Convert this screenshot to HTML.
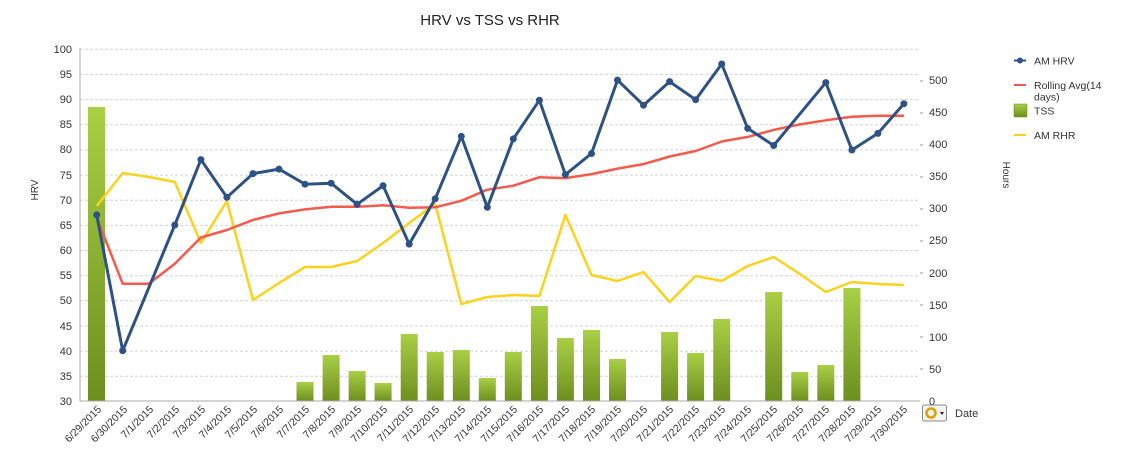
<!DOCTYPE html>
<html><head><meta charset="utf-8"><style>
body{margin:0;background:#fff;}
svg{display:block;font-family:"Liberation Sans",sans-serif;}
</style></head><body>
<svg width="1127" height="449" viewBox="0 0 1127 449" xmlns="http://www.w3.org/2000/svg">
<defs>
<linearGradient id="g" x1="0" y1="0" x2="0" y2="1">
<stop offset="0" stop-color="#a9cf45"/><stop offset="1" stop-color="#6c8f1f"/>
</linearGradient>
</defs>
<text x="490" y="25" font-size="15" text-anchor="middle" fill="#222">HRV vs TSS vs RHR</text>
<g stroke="#d4d4d4" stroke-dasharray="3,2" stroke-width="1">
<line x1="80" x2="920" y1="49.3" y2="49.3"/><line x1="80" x2="920" y1="74.4" y2="74.4"/>
<line x1="80" x2="920" y1="99.6" y2="99.6"/><line x1="80" x2="920" y1="124.7" y2="124.7"/>
<line x1="80" x2="920" y1="149.9" y2="149.9"/><line x1="80" x2="920" y1="175.1" y2="175.1"/>
<line x1="80" x2="920" y1="200.2" y2="200.2"/><line x1="80" x2="920" y1="225.4" y2="225.4"/>
<line x1="80" x2="920" y1="250.5" y2="250.5"/><line x1="80" x2="920" y1="275.7" y2="275.7"/>
<line x1="80" x2="920" y1="300.8" y2="300.8"/><line x1="80" x2="920" y1="326" y2="326"/>
<line x1="80" x2="920" y1="351.1" y2="351.1"/><line x1="80" x2="920" y1="376.3" y2="376.3"/>
</g>
<g font-size="11" fill="#333" text-anchor="end">
<text x="72" y="53">100</text><text x="72" y="78">95</text><text x="72" y="103">90</text>
<text x="72" y="128">85</text><text x="72" y="153">80</text><text x="72" y="179">75</text>
<text x="72" y="204">70</text><text x="72" y="229">65</text><text x="72" y="254">60</text>
<text x="72" y="279">55</text><text x="72" y="304">50</text><text x="72" y="330">45</text>
<text x="72" y="355">40</text><text x="72" y="380">35</text><text x="72" y="405">30</text>
</g>
<text transform="translate(38,190) rotate(-90)" font-size="10" fill="#333" text-anchor="middle">HRV</text>
<g font-size="11" fill="#333">
<text x="929" y="405">0</text><text x="929" y="373">50</text><text x="929" y="341">100</text>
<text x="929" y="309">150</text><text x="929" y="277">200</text><text x="929" y="244">250</text>
<text x="929" y="212">300</text><text x="929" y="180">350</text><text x="929" y="148">400</text>
<text x="929" y="116">450</text><text x="929" y="84">500</text>
</g>
<g stroke="#999" stroke-width="1">
<line x1="920" x2="923" y1="369" y2="369"/><line x1="920" x2="923" y1="337" y2="337"/>
<line x1="920" x2="923" y1="305" y2="305"/><line x1="920" x2="923" y1="273" y2="273"/>
<line x1="920" x2="923" y1="241" y2="241"/><line x1="920" x2="923" y1="209" y2="209"/>
<line x1="920" x2="923" y1="177" y2="177"/><line x1="920" x2="923" y1="145" y2="145"/>
<line x1="920" x2="923" y1="113" y2="113"/><line x1="920" x2="923" y1="81" y2="81"/>
</g>
<text transform="translate(1003,175) rotate(90)" font-size="10" fill="#333" text-anchor="middle">Hours</text>
<g fill="url(#g)">
<rect x="88" y="107" width="17" height="294"/>
<rect x="296.5" y="382" width="17" height="19"/>
<rect x="322.6" y="355" width="17" height="46"/>
<rect x="348.6" y="371" width="17" height="30"/>
<rect x="374.6" y="383" width="17" height="18"/>
<rect x="400.7" y="334" width="17" height="67"/>
<rect x="426.7" y="352" width="17" height="49"/>
<rect x="452.8" y="350" width="17" height="51"/>
<rect x="478.8" y="378" width="17" height="23"/>
<rect x="504.8" y="352" width="17" height="49"/>
<rect x="530.9" y="306" width="17" height="95"/>
<rect x="556.9" y="338" width="17" height="63"/>
<rect x="583" y="330" width="17" height="71"/>
<rect x="609" y="359" width="17" height="42"/>
<rect x="661.1" y="332" width="17" height="69"/>
<rect x="687.1" y="353" width="17" height="48"/>
<rect x="713.2" y="319" width="17" height="82"/>
<rect x="765.2" y="292" width="17" height="109"/>
<rect x="791.3" y="372" width="17" height="29"/>
<rect x="817.3" y="365" width="17" height="36"/>
<rect x="843.4" y="288" width="17" height="113"/>
</g>
<line x1="80" y1="48" x2="80" y2="401" stroke="#aaa"/>
<line x1="80" y1="401" x2="920" y2="401" stroke="#aaa"/>
<polyline fill="none" stroke="#fcd21c" stroke-width="2.5" stroke-linejoin="round" points="96.7,206 122.7,173 148.8,177 174.8,182 200.9,243 226.9,201 253,300 279,283 305,267 331.1,267 357.1,261 383.1,243 409.2,223 435.2,204 461.3,304 487.3,297 513.3,295 539.4,296 565.4,215 591.5,275 617.5,281 643.5,272 669.6,302 695.6,276 721.7,281 747.7,266 773.7,257 799.8,274 825.8,292 851.9,282 877.9,284 903.9,285"/>
<polyline fill="none" stroke="#f55a4e" stroke-width="2.5" stroke-linejoin="round" points="96.7,217.4 122.7,283.8 148.8,283.8 174.8,263.7 200.9,237.5 226.9,230 253,219.9 279,213.4 305,209.4 331.1,206.8 357.1,206.8 383.1,205.3 409.2,207.8 435.2,207.3 461.3,200.8 487.3,189.7 513.3,185.7 539.4,177.2 565.4,178.2 591.5,174.1 617.5,168.6 643.5,164.1 669.6,156.5 695.6,151 721.7,141.5 747.7,136.9 773.7,129.9 799.8,124.4 825.8,120.3 851.9,116.8 877.9,115.8 903.9,115.8"/>
<g fill="#2e5286" stroke="#2e5286">
<polyline fill="none" stroke-width="3" stroke-linejoin="round" points="96.7,214.9 122.7,350.7 174.8,225 200.9,159.6 226.9,197.3 253,173.6 279,169.1 305,184.2 331.1,183.2 357.1,204.3 383.1,185.7 409.2,244.1 435.2,198.8 461.3,136.4 487.3,207.3 513.3,138.9 539.4,100.2 565.4,174.6 591.5,153.5 617.5,80.1 643.5,105.2 669.6,81.6 695.6,99.7 721.7,64 747.7,128.4 773.7,145.5 825.8,82.6 851.9,150 877.9,133.4 903.9,103.7"/>
<g stroke="none">
<circle cx="96.7" cy="214.9" r="3.5"/><circle cx="122.7" cy="350.7" r="3.5"/><circle cx="174.8" cy="225" r="3.5"/><circle cx="200.9" cy="159.6" r="3.5"/><circle cx="226.9" cy="197.3" r="3.5"/><circle cx="253" cy="173.6" r="3.5"/><circle cx="279" cy="169.1" r="3.5"/><circle cx="305" cy="184.2" r="3.5"/><circle cx="331.1" cy="183.2" r="3.5"/><circle cx="357.1" cy="204.3" r="3.5"/><circle cx="383.1" cy="185.7" r="3.5"/><circle cx="409.2" cy="244.1" r="3.5"/><circle cx="435.2" cy="198.8" r="3.5"/><circle cx="461.3" cy="136.4" r="3.5"/><circle cx="487.3" cy="207.3" r="3.5"/><circle cx="513.3" cy="138.9" r="3.5"/><circle cx="539.4" cy="100.2" r="3.5"/><circle cx="565.4" cy="174.6" r="3.5"/><circle cx="591.5" cy="153.5" r="3.5"/><circle cx="617.5" cy="80.1" r="3.5"/><circle cx="643.5" cy="105.2" r="3.5"/><circle cx="669.6" cy="81.6" r="3.5"/><circle cx="695.6" cy="99.7" r="3.5"/><circle cx="721.7" cy="64" r="3.5"/><circle cx="747.7" cy="128.4" r="3.5"/><circle cx="773.7" cy="145.5" r="3.5"/><circle cx="825.8" cy="82.6" r="3.5"/><circle cx="851.9" cy="150" r="3.5"/><circle cx="877.9" cy="133.4" r="3.5"/><circle cx="903.9" cy="103.7" r="3.5"/>
</g></g>
<g font-size="10.5" fill="#333" text-anchor="end">
<text transform="translate(102,410) rotate(-45)">6/29/2015</text>
<text transform="translate(128,410) rotate(-45)">6/30/2015</text>
<text transform="translate(154,410) rotate(-45)">7/1/2015</text>
<text transform="translate(180,410) rotate(-45)">7/2/2015</text>
<text transform="translate(206,410) rotate(-45)">7/3/2015</text>
<text transform="translate(232,410) rotate(-45)">7/4/2015</text>
<text transform="translate(258,410) rotate(-45)">7/5/2015</text>
<text transform="translate(284,410) rotate(-45)">7/6/2015</text>
<text transform="translate(310,410) rotate(-45)">7/7/2015</text>
<text transform="translate(336,410) rotate(-45)">7/8/2015</text>
<text transform="translate(362,410) rotate(-45)">7/9/2015</text>
<text transform="translate(388,410) rotate(-45)">7/10/2015</text>
<text transform="translate(414,410) rotate(-45)">7/11/2015</text>
<text transform="translate(440,410) rotate(-45)">7/12/2015</text>
<text transform="translate(466,410) rotate(-45)">7/13/2015</text>
<text transform="translate(492,410) rotate(-45)">7/14/2015</text>
<text transform="translate(518,410) rotate(-45)">7/15/2015</text>
<text transform="translate(544,410) rotate(-45)">7/16/2015</text>
<text transform="translate(570,410) rotate(-45)">7/17/2015</text>
<text transform="translate(596,410) rotate(-45)">7/18/2015</text>
<text transform="translate(622,410) rotate(-45)">7/19/2015</text>
<text transform="translate(648,410) rotate(-45)">7/20/2015</text>
<text transform="translate(674,410) rotate(-45)">7/21/2015</text>
<text transform="translate(700,410) rotate(-45)">7/22/2015</text>
<text transform="translate(726,410) rotate(-45)">7/23/2015</text>
<text transform="translate(752,410) rotate(-45)">7/24/2015</text>
<text transform="translate(778,410) rotate(-45)">7/25/2015</text>
<text transform="translate(804,410) rotate(-45)">7/26/2015</text>
<text transform="translate(830,410) rotate(-45)">7/27/2015</text>
<text transform="translate(856,410) rotate(-45)">7/28/2015</text>
<text transform="translate(882,410) rotate(-45)">7/29/2015</text>
<text transform="translate(908,410) rotate(-45)">7/30/2015</text>
</g>
<rect x="922.5" y="405" width="24" height="16" rx="2" fill="#f4f4f4" stroke="#888"/>
<circle cx="931" cy="413" r="4.5" fill="none" stroke="#e0a000" stroke-width="2.5"/>
<path d="M940 412 l4 0 l-2 3z" fill="#222"/>
<text x="955" y="417" font-size="11" fill="#333">Date</text>
<line x1="1014" x2="1026" y1="60.5" y2="60.5" stroke="#2e5286" stroke-width="2"/>
<circle cx="1020" cy="60.5" r="3" fill="#2e5286"/>
<text x="1034" y="64.5" font-size="10.5" fill="#333">AM HRV</text>
<line x1="1014" x2="1026" y1="85" y2="85" stroke="#f55a4e" stroke-width="2"/>
<text x="1034" y="89" font-size="10.5" fill="#333">Rolling Avg(14</text>
<text x="1034" y="100.5" font-size="10.5" fill="#333">days)</text>
<rect x="1014" y="104" width="13" height="13" fill="url(#g)" stroke="#6c8f1f" stroke-width="0.5"/>
<text x="1034" y="114.5" font-size="10.5" fill="#333">TSS</text>
<line x1="1014" x2="1026" y1="135" y2="135" stroke="#fcd21c" stroke-width="2"/>
<text x="1034" y="139" font-size="10.5" fill="#333">AM RHR</text>
</svg>
</body></html>
